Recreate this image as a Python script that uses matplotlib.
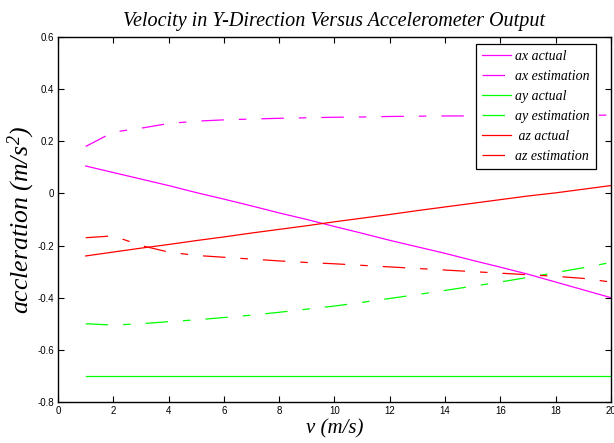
import numpy as np
import matplotlib.pyplot as plt
from matplotlib.ticker import FuncFormatter

plt.rcParams['mathtext.fontset'] = 'custom'
plt.rcParams['mathtext.it'] = 'Liberation Serif:italic'
plt.rcParams['mathtext.rm'] = 'Liberation Serif:italic'
plt.rcParams['axes.unicode_minus'] = False

# speed samples (m/s)
v = [1, 2, 3, 4, 5, 6, 7, 8, 9, 10, 11, 12, 13, 14, 15, 16, 17, 18, 19, 20]

ax_actual = [0.105, 0.08, 0.055, 0.03, 0.003, -0.022, -0.048, -0.075, -0.1, -0.127,
             -0.153, -0.18, -0.205, -0.23, -0.257, -0.283, -0.31, -0.34, -0.37, -0.4]
ax_est = [0.18, 0.235, 0.25, 0.268, 0.277, 0.282, 0.285, 0.288, 0.29, 0.292,
          0.293, 0.295, 0.296, 0.297, 0.297, 0.298, 0.299, 0.299, 0.3, 0.3]
ay_actual = [-0.7] * 20
ay_est = [-0.5, -0.505, -0.5, -0.492, -0.485, -0.476, -0.467, -0.456, -0.444, -0.432,
          -0.418, -0.403, -0.388, -0.372, -0.356, -0.34, -0.322, -0.304, -0.285, -0.265]
az_actual = [-0.24, -0.225, -0.21, -0.196, -0.181, -0.167, -0.152, -0.138, -0.124, -0.109,
             -0.095, -0.081, -0.066, -0.052, -0.038, -0.024, -0.01, 0.002, 0.016, 0.03]
az_est = [-0.17, -0.163, -0.2, -0.225, -0.238, -0.245, -0.252, -0.259, -0.265, -0.27,
          -0.276, -0.282, -0.288, -0.294, -0.3, -0.306, -0.312, -0.318, -0.326, -0.34]

dd = (18, 12, 6, 12)  # matlab-ish dash-dot

fig = plt.figure(figsize=(6.14, 4.43), dpi=100)
ax = fig.add_axes([0.0945, 0.0926, 0.9005, 0.824])

ax.plot(v, ax_actual, color='#ff00ff', lw=0.9, label='ax actual')
ax.plot(v, ax_est, color='#ff00ff', lw=0.9, dashes=dd, label='ax estimation')
ax.plot(v, ay_actual, color='#00ff00', lw=0.9, label='ay actual')
ax.plot(v, ay_est, color='#00ff00', lw=0.9, dashes=dd, label='ay estimation')
ax.plot(v, az_actual, color='#ff0000', lw=0.9, label=' az actual')
ax.plot(v, az_est, color='#ff0000', lw=0.9, dashes=dd, label='az estimation')

ax.set_xlim(0, 20)
ax.set_ylim(-0.8, 0.6)
ax.set_xticks(np.arange(0, 21, 2))
ax.set_yticks(np.round(np.arange(-0.8, 0.61, 0.2), 1))
ax.yaxis.set_major_formatter(FuncFormatter(lambda y, p: '%g' % (round(y, 1) + 0.0)))
ax.tick_params(direction='in', top=True, right=True, length=4, width=0.8,
               labelsize=7, pad=3)
for lab in ax.get_xticklabels() + ax.get_yticklabels():
    lab.set_family('Liberation Sans')
for s in ax.spines.values():
    s.set_linewidth(1.0)

serif = dict(family='Liberation Serif', style='italic')
ax.set_title('Velocity in Y-Direction Versus Accelerometer Output', fontsize=14.5, pad=8, **serif)
ax.set_xlabel('v (m/s)', fontsize=15, labelpad=2, **serif)
ax.set_ylabel(r'accleration ($m/s^2$)', fontsize=18.5, **serif)
ax.yaxis.set_label_coords(-0.038, 0.5)

leg = ax.legend(loc='upper right', bbox_to_anchor=(0.986, 1.0), fancybox=False,
                edgecolor='black', framealpha=1, handlelength=2.1, handletextpad=0.3,
                labelspacing=0.5, borderpad=0.45,
                prop={'family': 'Liberation Serif', 'style': 'italic', 'size': 10})
leg.get_frame().set_linewidth(0.9)

fig.savefig('out.png', dpi=100)
